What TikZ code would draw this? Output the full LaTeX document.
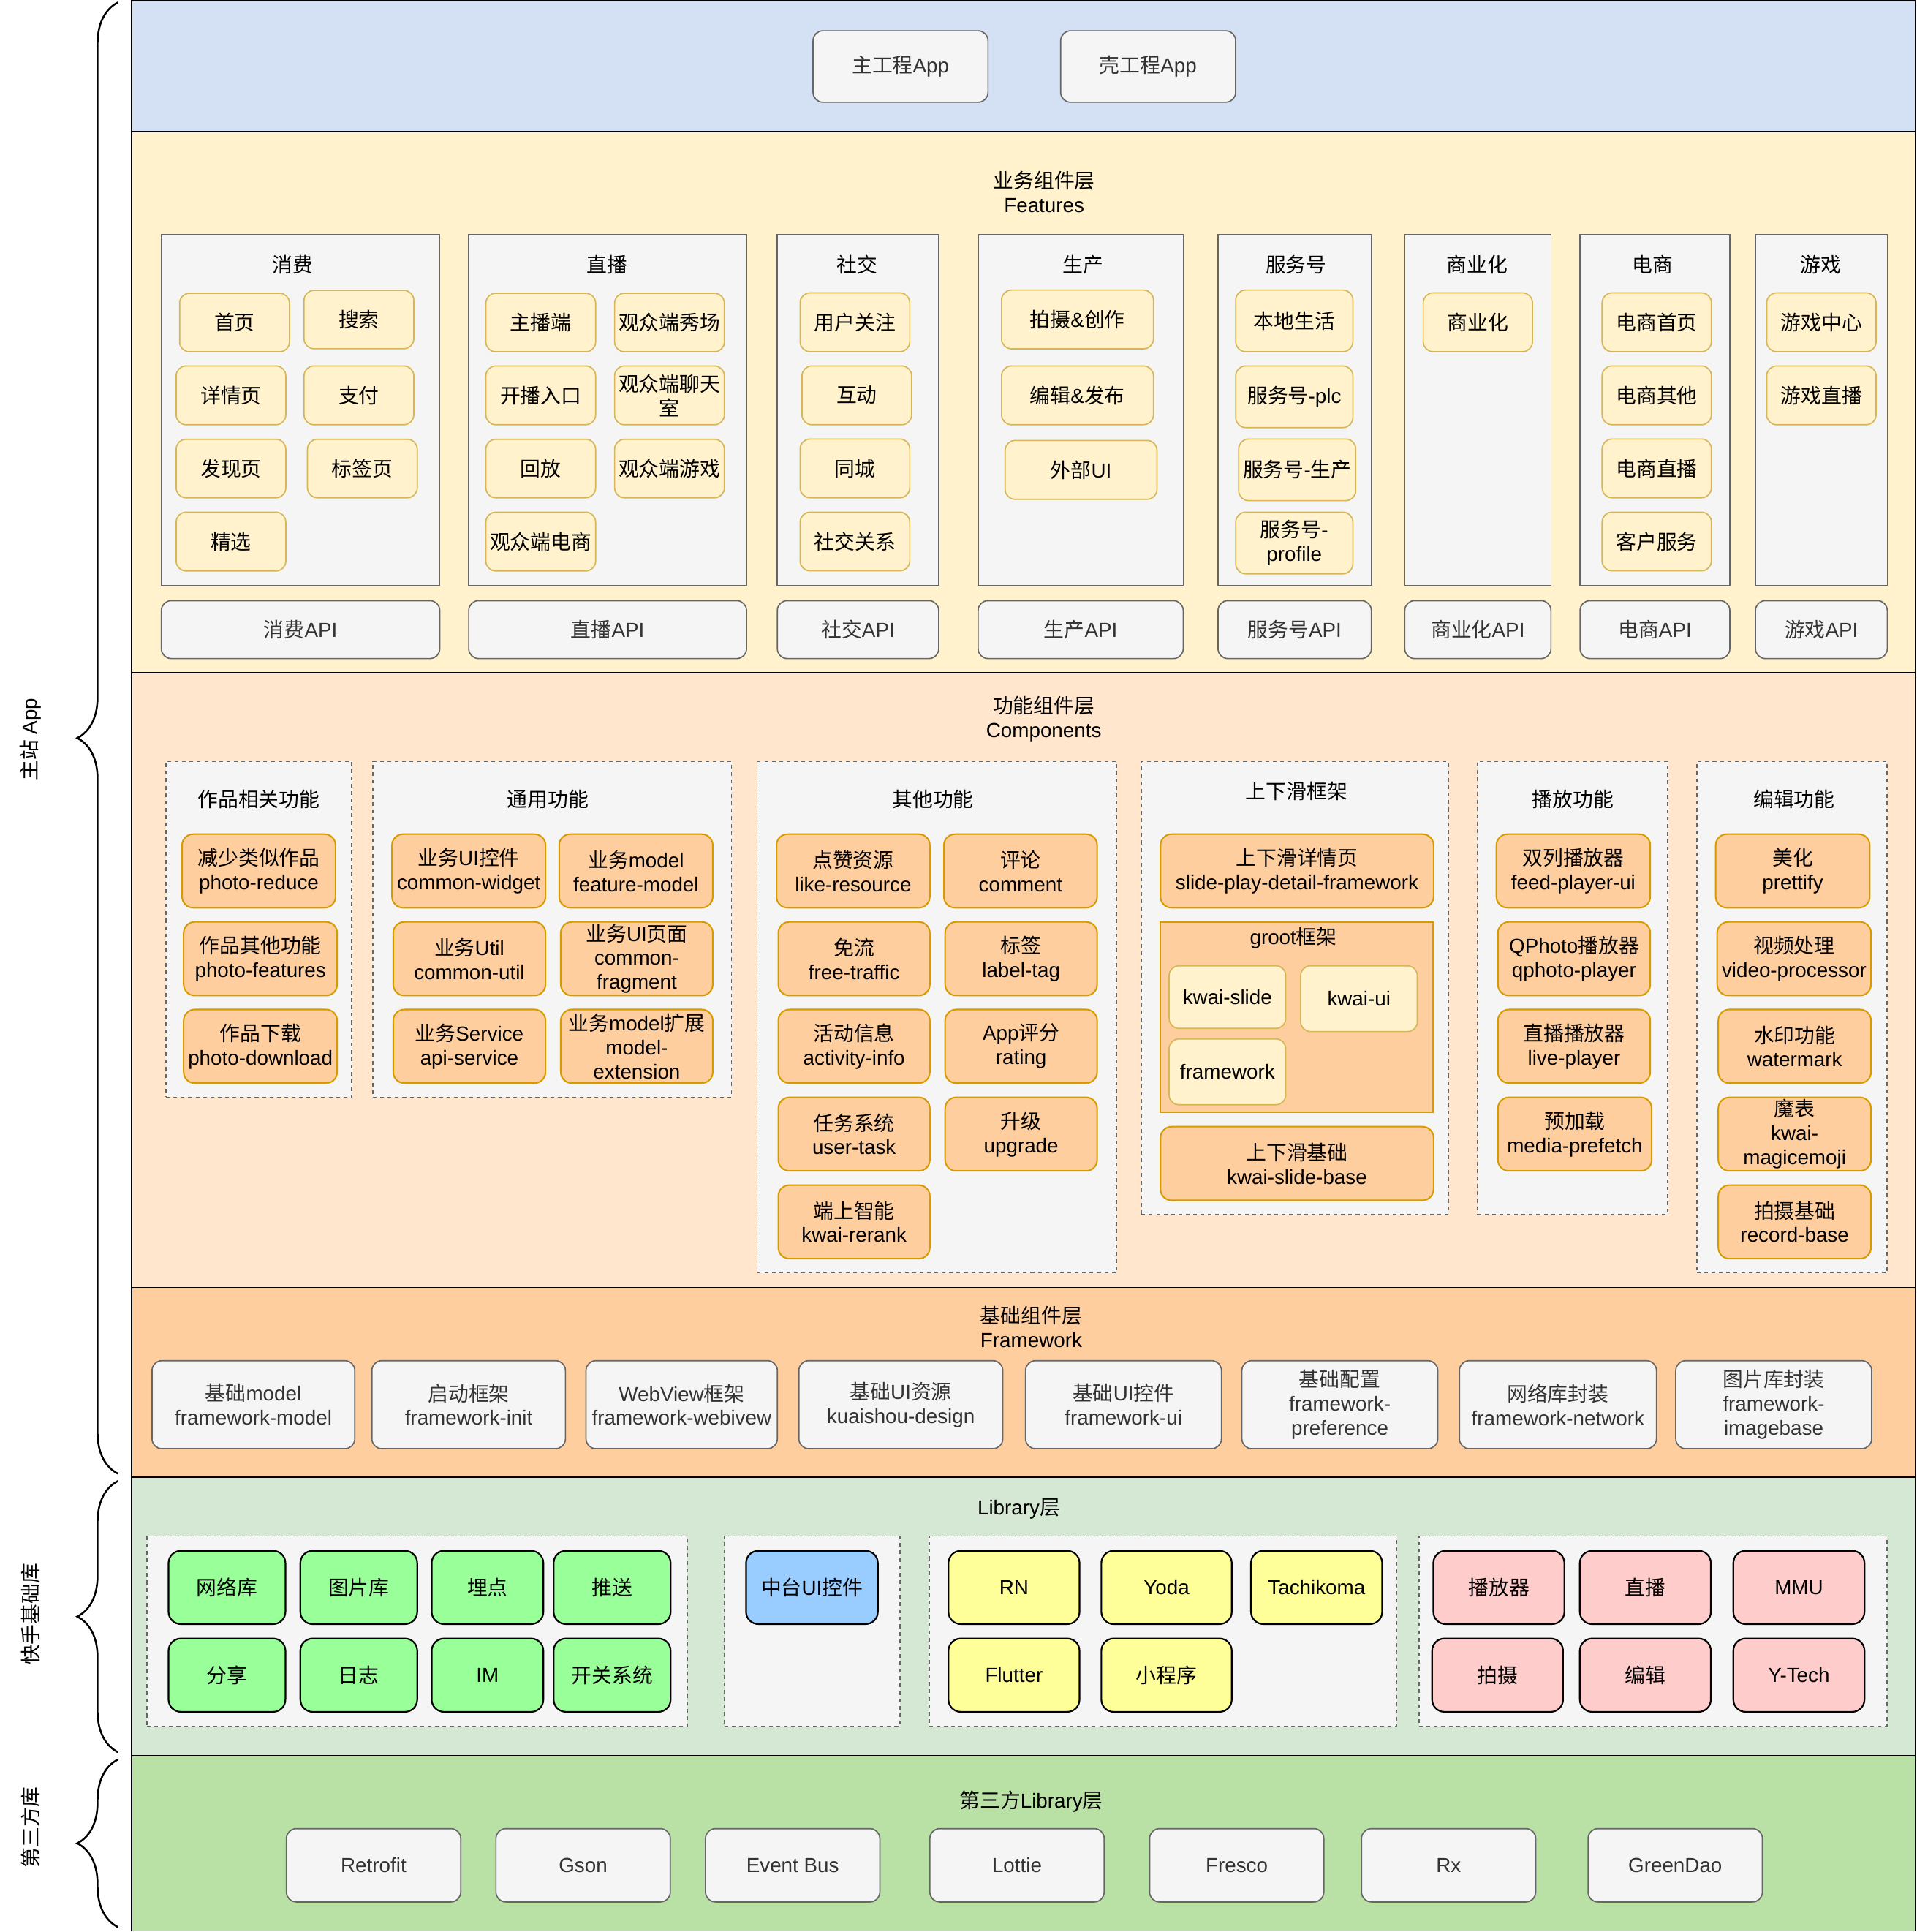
\documentclass[tikz,border=0pt]{standalone}
\usepackage{fontspec}
\setmainfont{Liberation Sans}
\newfontfamily\cjkf{Noto Sans CJK SC}
\newfontfamily\latf{Liberation Sans}
\usetikzlibrary{decorations.pathreplacing}
% automatic switch between Latin and CJK fonts
\XeTeXinterchartokenstate=1
\chardef\cjkcls=77
\newcount\mycnt
\mycnt="2E80
\loop
  \XeTeXcharclass\mycnt=\cjkcls
  \advance\mycnt by 1
\ifnum\mycnt<"A000 \repeat
\mycnt="FF00
\loop
  \XeTeXcharclass\mycnt=\cjkcls
  \advance\mycnt by 1
\ifnum\mycnt<"FFF0 \repeat
\XeTeXinterchartoks 0 \cjkcls = {\cjkf}
\XeTeXinterchartoks 4095 \cjkcls = {\cjkf}
\XeTeXinterchartoks \cjkcls 0 = {\latf}
\XeTeXinterchartoks \cjkcls 4095 = {\latf}

\definecolor{cBlueBand}{HTML}{D4E1F5}
\definecolor{cFeat}{HTML}{FFF2CC}
\definecolor{cComp}{HTML}{FFE6CC}
\definecolor{cFw}{HTML}{FFCE9F}
\definecolor{cLib}{HTML}{D5E8D4}
\definecolor{cThird}{HTML}{B9E0A5}
\definecolor{cGray}{HTML}{F5F5F5}
\definecolor{cGrayB}{HTML}{666666}
\definecolor{cTxt}{HTML}{333333}
\definecolor{cYel}{HTML}{FFF2CC}
\definecolor{cYelB}{HTML}{D6B656}
\definecolor{cOr}{HTML}{FFCE9F}
\definecolor{cOrB}{HTML}{D79B00}
\definecolor{cGreen}{HTML}{99FF99}
\definecolor{cBlueBox}{HTML}{99CCFF}
\definecolor{cYBox}{HTML}{FFFF99}
\definecolor{cPink}{HTML}{FFCCCC}

\newcommand\bx[7]{\node[#1, minimum width={#5-#3}, minimum height={#6-#4}] (#2) at ({(#3+#5)/2},{(#4+#6)/2}) {#7};}

\begin{document}
\begin{tikzpicture}[x=1pt,y=-1pt,
  every node/.style={font=\fontsize{16.5}{19.5}\selectfont, inner sep=1pt, align=center},
  band/.style={draw=black, line width=1pt, rectangle},
  grp/.style={draw=cGrayB, fill=cGray, line width=1pt, rectangle},
  dgrp/.style={grp, dash pattern=on 3pt off 3pt},
  gbox/.style={draw=cGrayB, fill=cGray, text=cTxt, rounded corners=8pt, line width=1pt},
  ybox/.style={draw=cYelB, fill=cYel, rounded corners=8pt, line width=1pt},
  obox/.style={draw=cOrB, fill=cOr, rounded corners=9pt, line width=1.2pt},
  lbox/.style={draw=black, rounded corners=10pt, line width=1.3pt},
  ttl/.style={inner sep=0pt},
  brc/.style={decorate, decoration={brace, amplitude=33pt, aspect=0.5}, line width=1.5pt}]
\useasboundingbox (0,0) rectangle (1556,1568);

% ---------- bands ----------
\bx{band, fill=cBlueBand}{bandA}{107}{0.7}{1555}{107}{}
\bx{band, fill=cFeat}{bandF}{107}{107}{1555}{546}{}
\bx{band, fill=cComp}{bandC}{107}{546}{1555}{1045}{}
\bx{band, fill=cFw}{bandW}{107}{1045}{1555}{1199}{}
\bx{band, fill=cLib}{bandL}{107}{1199}{1555}{1425}{}
\bx{band, fill=cThird}{bandT}{107}{1425}{1555}{1567}{}

% ---------- braces ----------
\coordinate (b1s) at (95.7,1196);
\coordinate (b1e) at (95.7,2);
\coordinate (b2s) at (95.7,1422);
\coordinate (b2e) at (95.7,1202);
\coordinate (b3s) at (95.7,1564);
\coordinate (b3e) at (95.7,1428);
\draw[brc] (b1s) -- (b1e);
\draw[brc] (b2s) -- (b2e);
\draw[brc] (b3s) -- (b3e);
\node[ttl, rotate=90] (lab1) at (24.7,600) {主站 App};
\node[ttl, rotate=90] (lab2) at (24.7,1310) {快手基础库};
\node[ttl, rotate=90] (lab3) at (24.7,1483) {第三方库};

% ---------- app layer ----------
\bx{gbox}{app1}{660}{25}{802}{83}{主工程App}
\bx{gbox}{app2}{861}{25}{1003}{83}{壳工程App}

% ---------- features ----------
\node[ttl] (featT) at (847.6,156) {业务组件层\\Features};
\bx{grp}{gF1}{131}{190.5}{357}{475}{}
\bx{grp}{gF2}{380.5}{190.5}{606}{475}{}
\bx{grp}{gF3}{631}{190.5}{762}{475}{}
\bx{grp}{gF4}{794}{190.5}{960.5}{475}{}
\bx{grp}{gF5}{988.7}{190.5}{1113.2}{475}{}
\bx{grp}{gF6}{1140.3}{190.5}{1259}{475}{}
\bx{grp}{gF7}{1282.6}{190.5}{1404.2}{475}{}
\bx{grp}{gF8}{1425}{190.5}{1532}{475}{}
\node[ttl] (gF1t) at (237.4,214.8) {消费};
\node[ttl] (gF2t) at (492.6,214.8) {直播};
\node[ttl] (gF3t) at (696,214.8) {社交};
\node[ttl] (gF4t) at (879.3,214.8) {生产};
\node[ttl] (gF5t) at (1052.1,214.8) {服务号};
\node[ttl] (gF6t) at (1199,214.8) {商业化};
\node[ttl] (gF7t) at (1341.4,214.8) {电商};
\node[ttl] (gF8t) at (1477.9,214.8) {游戏};

% 消费
\bx{ybox}{f11}{145.8}{238}{235}{285.5}{首页}
\bx{ybox}{f12}{246.8}{235.7}{335.9}{283}{搜索}
\bx{ybox}{f13}{143}{297}{232}{344.7}{详情页}
\bx{ybox}{f14}{246.8}{297}{335.9}{344.7}{支付}
\bx{ybox}{f15}{143}{356.5}{232}{404}{发现页}
\bx{ybox}{f16}{249.6}{356.5}{338.7}{404}{标签页}
\bx{ybox}{f17}{143}{415.7}{232}{463.4}{精选}
% 直播
\bx{ybox}{f21}{394.4}{238}{483.5}{285.5}{主播端}
\bx{ybox}{f22}{498.9}{238}{588}{285.5}{观众端秀场}
\bx{ybox}{f23}{394.4}{297}{483.5}{344.7}{开播入口}
\bx{ybox}{f24}{498.9}{297}{588}{344.7}{观众端聊天\\室}
\bx{ybox}{f25}{394.4}{356.5}{483.5}{404}{回放}
\bx{ybox}{f26}{498.9}{356.5}{588}{404}{观众端游戏}
\bx{ybox}{f27}{394.4}{415.7}{483.5}{463.4}{观众端电商}
% 社交
\bx{ybox}{f31}{649.5}{237.7}{738.5}{285.4}{用户关注}
\bx{ybox}{f32}{651}{297}{740}{344.7}{互动}
\bx{ybox}{f33}{649.5}{356.3}{738.5}{404}{同城}
\bx{ybox}{f34}{649.5}{415.7}{738.5}{463.3}{社交关系}
% 生产
\bx{ybox}{f41}{813}{235.4}{936.3}{283.1}{拍摄\&创作}
\bx{ybox}{f42}{813}{297}{936.3}{344.7}{编辑\&发布}
\bx{ybox}{f43}{815.9}{357.5}{939.2}{405.2}{外部UI}
% 服务号
\bx{ybox}{f51}{1003.1}{235.4}{1098.2}{285.4}{本地生活}
\bx{ybox}{f52}{1003.1}{297}{1098.2}{347}{服务号-plc}
\bx{ybox}{f53}{1005.5}{356.3}{1100.5}{406.3}{服务号-生产}
\bx{ybox}{f54}{1003.1}{415.7}{1098.2}{465.7}{服务号-\\profile}
% 商业化
\bx{ybox}{f61}{1155.3}{237.7}{1244}{285.4}{商业化}
% 电商
\bx{ybox}{f71}{1300.5}{237.7}{1389.2}{285.4}{电商首页}
\bx{ybox}{f72}{1300.5}{297}{1389.2}{344.7}{电商其他}
\bx{ybox}{f73}{1300.5}{356.3}{1389.2}{404}{电商直播}
\bx{ybox}{f74}{1300.5}{415.7}{1389.2}{463.3}{客户服务}
% 游戏
\bx{ybox}{f81}{1434.1}{237.7}{1522.9}{285.4}{游戏中心}
\bx{ybox}{f82}{1434.1}{297}{1522.9}{344.7}{游戏直播}

% API row
\bx{gbox}{api1}{131}{487.5}{357}{534.5}{消费API}
\bx{gbox}{api2}{380.5}{487.5}{606}{534.5}{直播API}
\bx{gbox}{api3}{631}{487.5}{762}{534.5}{社交API}
\bx{gbox}{api4}{794}{487.5}{960.5}{534.5}{生产API}
\bx{gbox}{api5}{988.7}{487.5}{1113.2}{534.5}{服务号API}
\bx{gbox}{api6}{1140.3}{487.5}{1259}{534.5}{商业化API}
\bx{gbox}{api7}{1282.6}{487.5}{1404.2}{534.5}{电商API}
\bx{gbox}{api8}{1425}{487.5}{1532}{534.5}{游戏API}

% ---------- components ----------
\node[ttl] (compT) at (847.3,583.5) {功能组件层\\Components};
\bx{dgrp}{gC1}{134.8}{617.8}{285.5}{890.5}{}
\bx{dgrp}{gC2}{302.7}{617.8}{593.8}{890.5}{}
\bx{dgrp}{gC3}{614.5}{617.8}{906.4}{1033}{}
\bx{dgrp}{gC4}{926.6}{617.8}{1175.5}{985.6}{}
\bx{dgrp}{gC5}{1199.2}{617.8}{1353.7}{985.6}{}
\bx{dgrp}{gC6}{1377.4}{617.8}{1531.7}{1033}{}
\node[ttl] (gC1t) at (210,648.4) {作品相关功能};
\node[ttl] (gC2t) at (444.7,648.4) {通用功能};
\node[ttl] (gC3t) at (757.3,648.4) {其他功能};
\node[ttl] (gC4t) at (1052.5,642) {上下滑框架};
\node[ttl] (gC5t) at (1276.9,648.4) {播放功能};
\node[ttl] (gC6t) at (1456.3,648.4) {编辑功能};

% 作品相关功能
\bx{obox}{c11}{147.8}{677}{272.4}{736.7}{减少类似作品\\photo-reduce}
\bx{obox}{c12}{149.1}{748.2}{273.7}{808}{作品其他功能\\photo-features}
\bx{obox}{c13}{149.1}{819.3}{273.7}{879.1}{作品下载\\photo-download}
% 通用功能
\bx{obox}{c21}{318.2}{677}{442.8}{736.7}{业务UI控件\\common-widget}
\bx{obox}{c22}{453.9}{677}{578.6}{736.7}{业务model\\feature-model}
\bx{obox}{c23}{319.2}{748.2}{442.8}{808}{业务Util\\common-util}
\bx{obox}{c24}{455.2}{748.2}{578.6}{808}{业务UI页面\\common-\\fragment}
\bx{obox}{c25}{319.2}{819.3}{442.8}{879.1}{业务Service\\api-service}
\bx{obox}{c26}{455.2}{819.3}{578.6}{879.1}{业务model扩展\\model-\\extension}
% 其他功能
\bx{obox}{c31}{630.3}{677}{754.8}{736.7}{点赞资源\\like-resource}
\bx{obox}{c32}{766.2}{677}{890.6}{736.7}{评论\\comment}
\bx{obox}{c33}{631.8}{748.2}{754.8}{808}{免流\\free-traffic}
\bx{obox}{c34}{767.2}{748.2}{890.6}{808}{标签\\label-tag}
\bx{obox}{c35}{631.8}{819.3}{754.8}{879.1}{活动信息\\activity-info}
\bx{obox}{c36}{767.2}{819.3}{890.6}{879.1}{App评分\\rating}
\bx{obox}{c37}{631.8}{890.6}{754.8}{950.3}{任务系统\\user-task}
\bx{obox}{c38}{767.2}{890.6}{890.6}{950.3}{升级\\upgrade}
\bx{obox}{c39}{631.8}{961.8}{754.8}{1021.5}{端上智能\\kwai-rerank}
% 上下滑框架
\bx{obox}{c41}{942}{677}{1163.7}{736.7}{上下滑详情页\\slide-play-detail-framework}
\bx{draw=cOrB, fill=cOr, line width=1.2pt, rectangle}{groot}{942}{748.2}{1163}{902.7}{}
\node[ttl] (grootT) at (1049.9,761.5) {groot框架};
\bx{ybox}{c42}{949}{783.8}{1043.7}{834.6}{kwai-slide}
\bx{ybox}{c43}{1055.8}{783.8}{1150.5}{837.2}{kwai-ui}
\bx{ybox}{c44}{949}{843.2}{1043.7}{896.6}{framework}
\bx{obox}{c45}{942}{914.4}{1163.7}{974.2}{上下滑基础\\kwai-slide-base}
% 播放功能
\bx{obox}{c51}{1214.7}{677}{1339.6}{736.7}{双列播放器\\feed-player-ui}
\bx{obox}{c52}{1215.9}{748.2}{1339.6}{808}{QPhoto播放器\\qphoto-player}
\bx{obox}{c53}{1215.9}{819.3}{1339.6}{879.1}{直播播放器\\live-player}
\bx{obox}{c54}{1215.9}{890.6}{1340.8}{950.3}{预加载\\media-prefetch}
% 编辑功能
\bx{obox}{c61}{1392.7}{677}{1517.8}{736.7}{美化\\prettify}
\bx{obox}{c62}{1393.9}{748.2}{1518.8}{808}{视频处理\\video-processor}
\bx{obox}{c63}{1394.8}{819.3}{1518.8}{879.1}{水印功能\\watermark}
\bx{obox}{c64}{1394.8}{890.6}{1518.8}{950.3}{魔表\\kwai-\\magicemoji}
\bx{obox}{c65}{1394.8}{961.8}{1518.8}{1021.5}{拍摄基础\\record-base}

% ---------- framework ----------
\node[ttl] (fwT) at (837.1,1076.6) {基础组件层\\Framework};
\bx{gbox}{w1}{123.4}{1104.3}{288}{1175.7}{基础model\\framework-model}
\bx{gbox}{w2}{301.9}{1104.3}{459}{1175.7}{启动框架\\framework-init}
\bx{gbox}{w3}{475.7}{1104.3}{631}{1175.7}{WebView框架\\framework-webivew}
\bx{gbox}{w4}{648.5}{1104.3}{814}{1175.7}{基础UI资源\\kuaishou-design}
\bx{gbox}{w5}{832.5}{1104.3}{991.5}{1175.7}{基础UI控件\\framework-ui}
\bx{gbox}{w6}{1008.1}{1104.3}{1167.1}{1175.7}{基础配置\\framework-\\preference}
\bx{gbox}{w7}{1184.7}{1104.3}{1344.6}{1175.7}{网络库封装\\framework-network}
\bx{gbox}{w8}{1360.3}{1104.3}{1519.3}{1175.7}{图片库封装\\framework-\\imagebase}

% ---------- library ----------
\node[ttl] (libT) at (827,1224.5) {Library层};
\bx{dgrp}{gL1}{119.3}{1246.7}{558.1}{1401}{}
\bx{dgrp}{gL2}{588.1}{1246.7}{730.5}{1401}{}
\bx{dgrp}{gL3}{754.3}{1246.7}{1133.9}{1401}{}
\bx{dgrp}{gL4}{1152}{1246.7}{1531.6}{1401}{}
\bx{lbox, fill=cGreen}{l11}{136.8}{1258.6}{231.7}{1318.1}{网络库}
\bx{lbox, fill=cGreen}{l12}{243.8}{1258.6}{338.7}{1318.1}{图片库}
\bx{lbox, fill=cGreen}{l13}{350.4}{1258.6}{441.1}{1318.1}{埋点}
\bx{lbox, fill=cGreen}{l14}{449.4}{1258.6}{544.4}{1318.1}{推送}
\bx{lbox, fill=cGreen}{l15}{136.8}{1329.8}{231.7}{1389.3}{分享}
\bx{lbox, fill=cGreen}{l16}{243.8}{1329.8}{338.7}{1389.3}{日志}
\bx{lbox, fill=cGreen}{l17}{350.4}{1329.8}{441.1}{1389.3}{IM}
\bx{lbox, fill=cGreen}{l18}{449.4}{1329.8}{544.4}{1389.3}{开关系统}
\bx{lbox, fill=cBlueBox}{l21}{605.6}{1258.6}{712.6}{1318.1}{中台UI控件}
\bx{lbox, fill=cYBox}{l31}{769.9}{1258.6}{876.3}{1318.1}{RN}
\bx{lbox, fill=cYBox}{l32}{894}{1258.6}{999.9}{1318.1}{Yoda}
\bx{lbox, fill=cYBox}{l33}{1015.5}{1258.6}{1122}{1318.1}{Tachikoma}
\bx{lbox, fill=cYBox}{l34}{769.9}{1329.8}{876.3}{1389.3}{Flutter}
\bx{lbox, fill=cYBox}{l35}{894}{1329.8}{999.9}{1389.3}{小程序}
\bx{lbox, fill=cPink}{l41}{1163.5}{1258.6}{1269.9}{1318.1}{播放器}
\bx{lbox, fill=cPink}{l42}{1282.4}{1258.6}{1388.8}{1318.1}{直播}
\bx{lbox, fill=cPink}{l43}{1407}{1258.6}{1513.5}{1318.1}{MMU}
\bx{lbox, fill=cPink}{l44}{1162.5}{1329.8}{1268.8}{1389.3}{拍摄}
\bx{lbox, fill=cPink}{l45}{1282.4}{1329.8}{1388.8}{1389.3}{编辑}
\bx{lbox, fill=cPink}{l46}{1407}{1329.8}{1513.5}{1389.3}{Y-Tech}

% ---------- third party ----------
\node[ttl] (thT) at (837.1,1461.9) {第三方Library层};
\bx{gbox}{t1}{232.5}{1484.1}{374}{1543.6}{Retrofit}
\bx{gbox}{t2}{402.6}{1484.1}{544.1}{1543.6}{Gson}
\bx{gbox}{t3}{572.7}{1484.1}{714.2}{1543.6}{Event Bus}
\bx{gbox}{t4}{754.8}{1484.1}{896.3}{1543.6}{Lottie}
\bx{gbox}{t5}{933.2}{1484.1}{1074.6}{1543.6}{Fresco}
\bx{gbox}{t6}{1105.2}{1484.1}{1246.6}{1543.6}{Rx}
\bx{gbox}{t7}{1289.1}{1484.1}{1430.6}{1543.6}{GreenDao}
\end{tikzpicture}
\end{document}
